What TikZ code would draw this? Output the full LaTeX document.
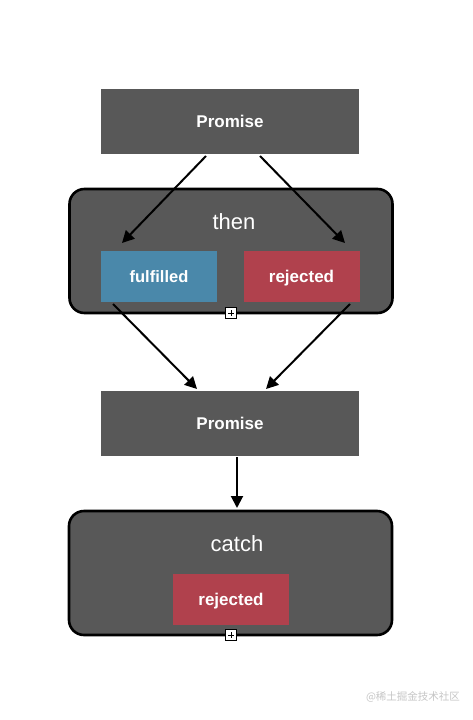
\documentclass[tikz,border=0pt]{standalone}
\usepackage{fontspec}
\setmainfont{Liberation Sans}
\newfontfamily\cjk{Noto Sans CJK SC}
\usetikzlibrary{arrows.meta}
\definecolor{boxgray}{HTML}{585858}
\definecolor{fblue}{HTML}{4A88AA}
\definecolor{rred}{HTML}{B0414D}
\tikzset{
  promisebox/.style={fill=boxgray, draw=none, minimum width=258pt, minimum height=65pt, inner sep=0pt, text height=12pt, text depth=0pt, text=white, font=\fontsize{17}{20}\selectfont\bfseries},
  container/.style={fill=boxgray, draw=black, line width=2.6pt, rounded corners=15pt, minimum width=323pt, minimum height=124pt, inner sep=0pt},
  title/.style={text=white, font=\fontsize{22}{26}\selectfont, inner sep=0pt, text height=16pt, text depth=0pt},
  fbox/.style={fill=fblue, draw=none, minimum width=116pt, minimum height=51pt, inner sep=0pt, text height=12pt, text depth=0pt, text=white, font=\fontsize{16.5}{20}\selectfont\bfseries},
  rbox/.style={fill=rred, draw=none, minimum width=116pt, minimum height=51pt, inner sep=0pt, text height=12pt, text depth=0pt, text=white, font=\fontsize{17}{20}\selectfont\bfseries},
  plusicon/.style={draw=black, fill=white, line width=0.8pt, minimum size=11pt, inner sep=0pt,
    path picture={\draw[line width=0.8pt] ([yshift=-2.5pt]path picture bounding box.north) -- ([yshift=2.5pt]path picture bounding box.south);
                  \draw[line width=0.8pt] ([xshift=2.5pt]path picture bounding box.west) -- ([xshift=-2.5pt]path picture bounding box.east);}},
  conn/.style={line width=2pt, -{Triangle[length=12pt,width=12pt]}}
}
\begin{document}
\begin{tikzpicture}[x=1pt,y=-1pt]
\useasboundingbox (0,0) rectangle (473,720);
\fill[white] (0,0) rectangle (473,720);
\node[promisebox] (p1) at (230,121.5) {Promise};
\node[container] (then) at (231,251) {};
\node[title] (thent) at (234,221) {then};
\node[fbox] (ful) at (159,276.5) {fulfilled};
\node[rbox] (rej1) at (301.5,276.5) {rejected};
\node[plusicon] (pl1) at (231,313) {};
\node[promisebox] (p2) at (230,423) {Promise};
\node[container] (catch) at (230.5,573) {};
\node[title] (catcht) at (237,543) {catch};
\node[rbox] (rej2) at (231,599) {rejected};
\node[plusicon] (pl2) at (231,635) {};
\node[text=gray!45, font=\cjk\fontsize{10.5}{12}\selectfont, inner sep=0pt] (wm) at (413,697) {@稀土掘金技术社区};
\coordinate (a1s) at (206,156); \coordinate (a1e) at (122,243);
\coordinate (a2s) at (260,156); \coordinate (a2e) at (345,243);
\coordinate (a3s) at (113,304); \coordinate (a3e) at (197,389);
\coordinate (a4s) at (350,304); \coordinate (a4e) at (266,389);
\coordinate (a5s) at (237,457); \coordinate (a5e) at (237,508);
\draw[conn] (a1s) -- (a1e);
\draw[conn] (a2s) -- (a2e);
\draw[conn] (a3s) -- (a3e);
\draw[conn] (a4s) -- (a4e);
\draw[conn] (a5s) -- (a5e);
\end{tikzpicture}
\end{document}
